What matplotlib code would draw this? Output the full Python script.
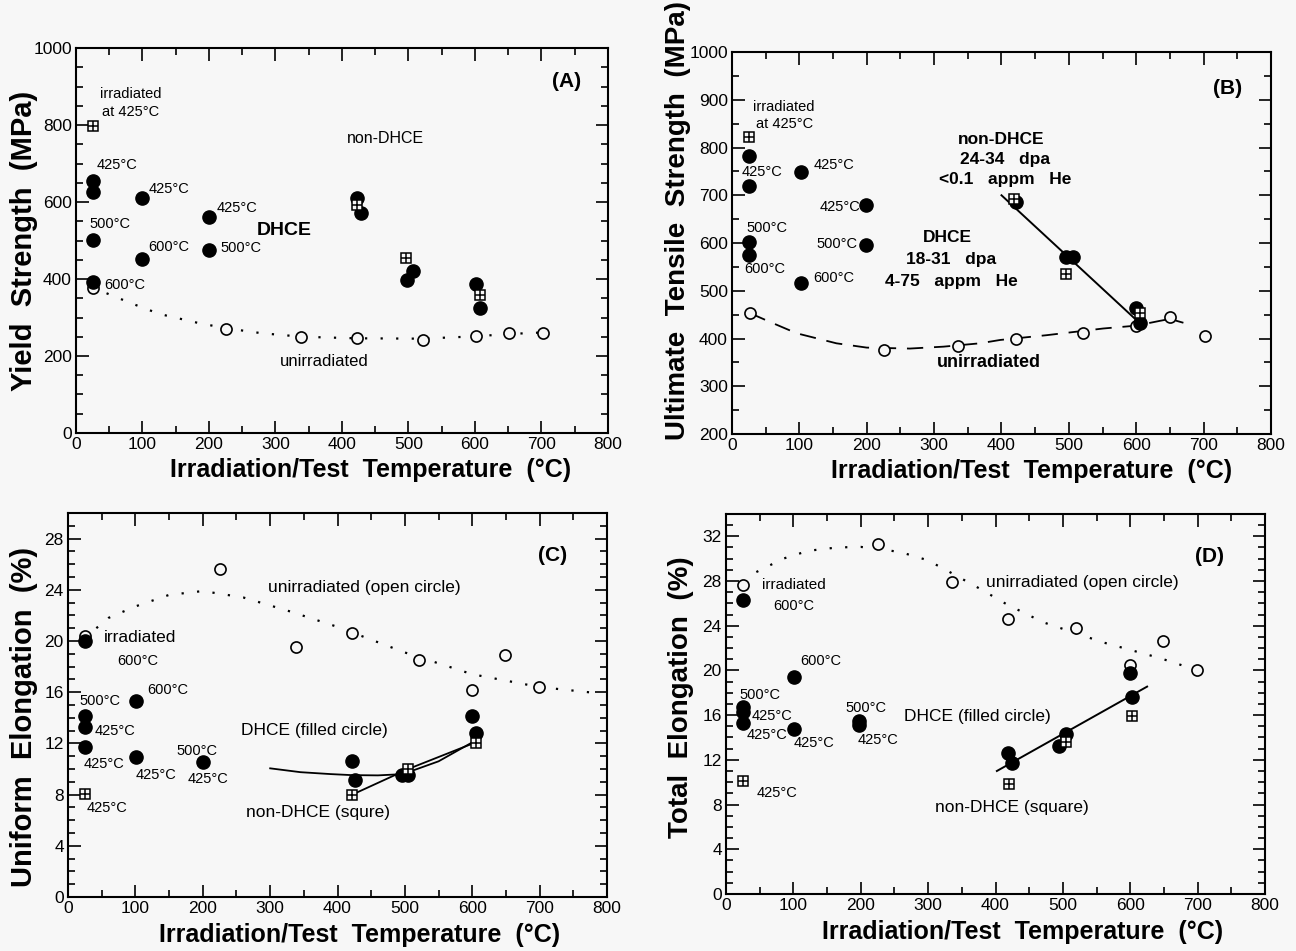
import matplotlib
matplotlib.use("Agg")
import matplotlib.pyplot as plt
from matplotlib.ticker import MultipleLocator

plt.rcParams['font.family'] = ['Liberation Sans', 'DejaVu Sans']
BG = '#f7f7f7'

# ---------------- (A) yield strength, MPa ----------------
a_unirr_x = [25, 225, 338, 422, 522, 602, 651, 703]
a_unirr_y = [376, 270, 250, 248, 242, 253, 260, 261]
a_dhce_x = [25, 25, 100, 200, 25, 100, 200, 25, 422, 428, 498, 507, 602, 608]
a_dhce_y = [655, 625, 610, 562, 501, 453, 475, 393, 610, 572, 397, 421, 387, 324]
a_non_x = [25, 422, 497, 608]
a_non_y = [797, 592, 455, 358]
a_curve_x = [46, 86, 126, 186, 226, 280, 340, 420, 520, 600, 650, 700]
a_curve_y = [363, 335, 309, 285, 272, 259, 250, 246, 245, 251, 257, 261]

# ---------------- (B) ultimate tensile strength, MPa ----------------
b_unirr_x = [27, 225, 336, 421, 521, 599, 650, 702]
b_unirr_y = [453, 376, 384, 400, 412, 426, 446, 405]
b_dhce_x = [25, 25, 102, 199, 199, 25, 25, 102, 422, 496, 506, 600, 605]
b_dhce_y = [782, 719, 748, 680, 596, 603, 575, 516, 686, 570, 570, 463, 432]
b_non_x = [25, 419, 496, 605]
b_non_y = [822, 693, 535, 453]
b_fit_x = [400, 603]
b_fit_y = [700, 435]
b_curve_x = [27, 56, 96, 155, 200, 264, 314, 368, 398, 467, 551, 600, 635, 650, 670]
b_curve_y = [453, 435, 411, 390, 381, 379, 383, 390, 397, 407, 421, 427, 437, 441, 433]

# ---------------- (C) uniform elongation, % ----------------
c_unirr_x = [25, 226, 338, 421, 521, 600, 649, 699]
c_unirr_y = [20.4, 25.6, 19.5, 20.6, 18.5, 16.2, 18.9, 16.4]
c_dhce_x = [25, 25, 25, 25, 101, 101, 200, 421, 426, 495, 505, 600, 606]
c_dhce_y = [20.0, 14.15, 13.25, 11.7, 15.3, 10.9, 10.55, 10.6, 9.15, 9.5, 9.5, 14.1, 12.8]
c_non_x = [25, 422, 505, 606]
c_non_y = [8.05, 7.97, 10.0, 12.0]
c_curve_x = [42, 60, 100, 150, 200, 260, 330, 400, 500, 600, 700, 790]
c_curve_y = [21.0, 21.8, 22.7, 23.6, 23.9, 23.4, 22.3, 21.1, 19.1, 17.4, 16.4, 15.9]
c_dhce_fit_x = [300, 345, 390, 421, 460, 497, 550, 604]
c_dhce_fit_y = [10.05, 9.75, 9.6, 9.52, 9.5, 9.6, 10.6, 12.2]
c_non_fit_x = [422, 505, 606]
c_non_fit_y = [8.0, 10.0, 12.1]

# ---------------- (D) total elongation, % ----------------
d_unirr_x = [25, 225, 335, 419, 519, 599, 649, 699]
d_unirr_y = [27.6, 31.3, 27.9, 24.6, 23.8, 20.45, 22.6, 20.0]
d_dhce_x = [25, 25, 25, 25, 101, 101, 198, 198, 419, 424, 494, 504, 599, 603]
d_dhce_y = [26.3, 16.76, 16.3, 15.33, 19.45, 14.8, 15.5, 15.1, 12.65, 11.75, 13.25, 14.3, 19.8, 17.65]
d_non_x = [25, 420, 505, 603]
d_non_y = [10.1, 9.8, 13.6, 15.9]
d_fit_x = [402, 625]
d_fit_y = [11.0, 18.55]
d_curve_x = [45, 85, 122, 165, 200, 258, 297, 320, 377, 417, 471, 560, 644, 700]
d_curve_y = [28.8, 30.0, 30.7, 31.0, 31.05, 30.6, 29.9, 29.2, 27.3, 25.9, 24.3, 22.5, 21.1, 20.0]

XLABEL = "Irradiation/Test  Temperature  (\u00b0C)"


def setup_axes(ax, ylim, ymajor, yminor, ylabel, ylab_xy, xlab_xy, ylab_size=20):
    ax.set_facecolor(BG)
    ax.set_xlim(0, 800)
    ax.set_ylim(*ylim)
    ax.xaxis.set_major_locator(MultipleLocator(100))
    ax.xaxis.set_minor_locator(MultipleLocator(50))
    ax.yaxis.set_major_locator(MultipleLocator(ymajor))
    ax.yaxis.set_minor_locator(MultipleLocator(yminor))
    ax.tick_params(which='both', direction='in', top=True, right=True, width=1.2,
                   labelsize=12.5, pad=3)
    ax.tick_params(which='major', length=9)
    ax.tick_params(which='minor', length=5)
    for s in ax.spines.values():
        s.set_linewidth(1.5)
    ax.set_xlabel(XLABEL, fontsize=18, fontweight='bold')
    ax.xaxis.set_label_coords(*xlab_xy)
    ax.xaxis.label.set_va('center')
    ax.set_ylabel(ylabel, fontsize=ylab_size, fontweight='bold')
    ax.yaxis.set_label_coords(*ylab_xy)
    ax.yaxis.label.set_va('center')


def draw_points(ax, ox, oy, fx, fy, sx, sy):
    ax.plot(ox, oy, 'o', mfc=BG, mec='k', ms=8, mew=1.2, zorder=3)
    ax.plot(fx, fy, 'o', color='k', ms=9.5, zorder=4)
    ax.plot(sx, sy, 's', mfc=BG, mec='k', ms=7, mew=1.1, zorder=5)
    ax.plot(sx, sy, '+', color='k', ms=7, mew=1.1, zorder=6)


fig = plt.figure(figsize=(12.96, 9.51), dpi=100, facecolor=BG)
axA = fig.add_axes([0.0586, 0.5447, 0.4105, 0.4048])
axB = fig.add_axes([0.5648, 0.5436, 0.4159, 0.4017])
axC = fig.add_axes([0.0525, 0.0568, 0.4159, 0.4038])
axD = fig.add_axes([0.5602, 0.0600, 0.4159, 0.3996])

# (A)
setup_axes(axA, (0, 1000), 200, 50, "Yield  Strength  (MPa)", (-0.098, 0.5), (0.553, -0.097), 21)
axA.plot(a_curve_x, a_curve_y, color='k', lw=1.6, linestyle=(0, (1, 6)))
draw_points(axA, a_unirr_x, a_unirr_y, a_dhce_x, a_dhce_y, a_non_x, a_non_y)
tA = dict(fontsize=10.5, va='center')
axA.text(36, 880, "irradiated", **tA)
axA.text(39, 834, "at 425\u00b0C", **tA)
axA.text(31, 696, "425\u00b0C", **tA)
axA.text(110, 634, "425\u00b0C", **tA)
axA.text(212, 585, "425\u00b0C", **tA)
axA.text(21, 543, "500\u00b0C", **tA)
axA.text(108, 483, "600\u00b0C", **tA)
axA.text(217, 480, "500\u00b0C", **tA)
axA.text(42, 384, "600\u00b0C", **tA)
axA.text(272, 525, "DHCE", fontsize=14, fontweight='bold', va='center')
axA.text(408, 766, "non-DHCE", fontsize=11.5, va='center')
axA.text(307, 185, "unirradiated", fontsize=12, va='center')
axA.text(716, 912, "(A)", fontsize=15, fontweight='bold', va='center')

# (B)
setup_axes(axB, (200, 1000), 100, 50, "Ultimate  Tensile  Strength  (MPa)", (-0.1, 0.56), (0.555, -0.097))
axB.plot(b_curve_x, b_curve_y, color='k', lw=1.3, linestyle=(0, (9, 6)))
axB.plot(b_fit_x, b_fit_y, color='k', lw=1.4)
draw_points(axB, b_unirr_x, b_unirr_y, b_dhce_x, b_dhce_y, b_non_x, b_non_y)
axB.text(31, 885, "irradiated", **tA)
axB.text(36, 849, "at 425\u00b0C", **tA)
axB.text(14, 749, "425\u00b0C", **tA)
axB.text(121, 763, "425\u00b0C", **tA)
axB.text(190, 675, "425\u00b0C", ha='right', **tA)
axB.text(22, 632, "500\u00b0C", **tA)
axB.text(186, 599, "500\u00b0C", ha='right', **tA)
axB.text(18, 545, "600\u00b0C", **tA)
axB.text(121, 526, "600\u00b0C", **tA)
tB = dict(fontsize=12.5, fontweight='bold', ha='center', va='center')
axB.text(320, 611, "DHCE", **tB)
axB.text(325, 566, "18-31   dpa", **tB)
axB.text(325, 519, "4-75   appm   He", **tB)
axB.text(400, 816, "non-DHCE", **tB)
axB.text(405, 774, "24-34   dpa", **tB)
axB.text(405, 732, "<0.1   appm   He", **tB)
axB.text(304, 349, "unirradiated", fontsize=13, fontweight='bold', va='center')
axB.text(714, 924, "(B)", fontsize=15, fontweight='bold', va='center')

# (C)
setup_axes(axC, (0, 30), 4, 1, "Uniform  Elongation  (%)", (-0.082, 0.47), (0.54, -0.1), 21)
axC.plot(c_curve_x, c_curve_y, color='k', lw=1.6, linestyle=(0, (1, 6)))
axC.plot(c_dhce_fit_x, c_dhce_fit_y, color='k', lw=1.3)
axC.plot(c_non_fit_x, c_non_fit_y, color='k', lw=1.3)
draw_points(axC, c_unirr_x, c_unirr_y, c_dhce_x, c_dhce_y, c_non_x, c_non_y)
axC.text(53, 20.26, "irradiated", fontsize=12.5, va='center')
axC.text(73, 18.4, "600\u00b0C", **tA)
axC.text(17, 15.3, "500\u00b0C", **tA)
axC.text(118, 16.2, "600\u00b0C", **tA)
axC.text(40, 13.0, "425\u00b0C", **tA)
axC.text(23, 10.4, "425\u00b0C", **tA)
axC.text(101, 9.53, "425\u00b0C", **tA)
axC.text(161, 11.43, "500\u00b0C", **tA)
axC.text(178, 9.2, "425\u00b0C", **tA)
axC.text(27, 6.93, "425\u00b0C", **tA)
axC.text(297, 24.2, "unirradiated (open circle)", fontsize=12.5, va='center')
axC.text(256, 13.0, "DHCE (filled circle)", fontsize=12.5, va='center')
axC.text(264, 6.6, "non-DHCE (squre)", fontsize=12.5, va='center')
axC.text(697, 26.7, "(C)", fontsize=15, fontweight='bold', va='center')

# (D)
setup_axes(axD, (0, 34), 4, 1, "Total  Elongation  (%)", (-0.083, 0.518), (0.55, -0.1))
axD.plot(d_curve_x, d_curve_y, color='k', lw=1.6, linestyle=(0, (1, 6)))
axD.plot(d_fit_x, d_fit_y, color='k', lw=1.4)
draw_points(axD, d_unirr_x, d_unirr_y, d_dhce_x, d_dhce_y, d_non_x, d_non_y)
axD.text(54, 27.6, "irradiated", fontsize=11, va='center')
axD.text(70, 25.8, "600\u00b0C", **tA)
axD.text(110, 20.8, "600\u00b0C", **tA)
axD.text(20, 17.8, "500\u00b0C", **tA)
axD.text(38, 15.9, "425\u00b0C", **tA)
axD.text(31, 14.2, "425\u00b0C", **tA)
axD.text(101, 13.5, "425\u00b0C", **tA)
axD.text(177, 16.6, "500\u00b0C", **tA)
axD.text(196, 13.8, "425\u00b0C", **tA)
axD.text(45, 9.0, "425\u00b0C", **tA)
axD.text(264, 15.9, "DHCE (filled circle)", fontsize=12.5, va='center')
axD.text(310, 7.7, "non-DHCE (square)", fontsize=12.5, va='center')
axD.text(386, 27.85, "unirradiated (open circle)", fontsize=12.5, va='center')
axD.text(696, 30.2, "(D)", fontsize=15, fontweight='bold', va='center')

fig.savefig("out.png", dpi=100, facecolor=BG)
